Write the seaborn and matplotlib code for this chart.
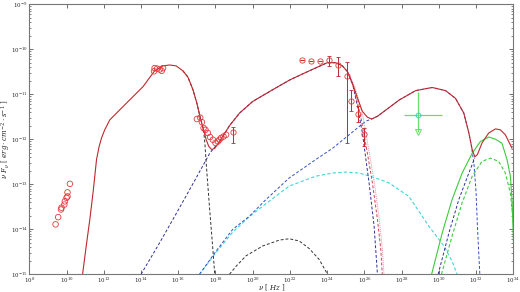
import numpy as np
import pandas as pd
import matplotlib
matplotlib.use("Agg")
import matplotlib.pyplot as plt
import matplotlib.ticker as mticker
import seaborn as sns

# values, stored as log10(nu / Hz) and log10(nuF_nu)
radio_lx = [9.41, 9.55, 9.70, 9.73, 9.88, 9.91, 10.0, 10.05, 10.05, 10.18]
radio_ly = [-13.89, -13.73, -13.56, -13.52, -13.45, -13.38, -13.30, -13.27, -13.18, -12.99]

opt_lx = [14.70, 14.73, 14.86, 15.0, 15.11, 15.18]
opt_ly = [-10.49, -10.42, -10.43, -10.45, -10.48, -10.42]

xray_lx = [17.0, 17.18, 17.27, 17.36, 17.46, 17.59, 17.71, 17.86, 18.0, 18.13, 18.21, 18.30, 18.43, 18.57]
xray_ly = [-11.55, -11.52, -11.62, -11.75, -11.79, -11.86, -11.95, -12.01, -12.08, -12.05, -12.01, -11.97, -11.94, -11.90]
xray_last = (18.93, -11.83, -11.72, -12.08)  # x, y, upper, lower

gam_lx = [22.63, 23.13, 23.61, 24.11, 24.59, 25.09, 25.27, 25.63, 25.98]
gam_ly = [-10.24, -10.26, -10.26, -10.25, -10.34, -10.59, -11.14, -11.44, -11.88]
gam_hi = [-10.24, -10.26, -10.26, -10.15, -10.17, -10.28, -10.90, -11.27, -11.75]
gam_lo = [-10.24, -10.26, -10.26, -10.37, -10.59, -12.08, -11.38, -11.61, -12.16]

# green upper limit: x, y, x_low, x_high, y_top, y_arrow
ul = (28.875, -11.47, 28.125, 30.18, -10.96, -11.83)

tot_lx = [10.86, 11.05, 11.25, 11.43, 11.61, 11.75, 11.88, 12.05, 12.32, 13.21, 14.11, 14.73,
          15.18, 15.54, 15.89, 16.25, 16.52, 16.79, 17.0, 17.2, 17.36, 17.5, 17.64, 17.8, 17.96,
          18.14, 18.39, 18.75, 19.29, 20.0, 21.07, 22.0, 23.04, 24.0, 24.46, 24.82, 25.09, 25.36,
          25.63, 25.89, 26.16, 26.39, 26.7, 26.96, 27.86, 28.75, 29.64, 30.36, 30.89, 31.34, 31.61,
          31.79, 31.93, 32.07, 32.32, 32.68, 33.04, 33.3, 33.57, 33.75, 33.93]
tot_ly = [-15.0, -14.39, -13.78, -13.16, -12.45, -12.16, -11.97, -11.79, -11.57, -11.2, -10.83, -10.48,
          -10.37, -10.35, -10.37, -10.48, -10.62, -10.9, -11.2, -11.55, -11.79, -12.01, -12.16, -12.23, -12.2,
          -12.1, -11.94, -11.7, -11.42, -11.16, -10.9, -10.68, -10.48, -10.3, -10.3, -10.37, -10.5, -10.76,
          -11.09, -11.38, -11.51, -11.55, -11.49, -11.41, -11.13, -10.92, -10.85, -10.92, -11.09, -11.42, -11.86,
          -12.23, -12.39, -12.34, -12.08, -11.86, -11.77, -11.79, -11.9, -12.05, -12.2]

sync_lx = [16.25, 16.52, 16.79, 17.0, 17.2, 17.36, 17.43, 17.5, 17.68, 17.86, 17.96]
sync_ly = [-10.48, -10.62, -10.9, -11.2, -11.55, -11.79, -12.09, -12.53, -13.52, -14.45, -15.0]

ssc_lx = [14.0, 15.0, 16.07, 16.96, 17.68, 17.86, 18.14, 18.39, 18.75, 19.29, 20.0, 21.07, 22.0,
          23.04, 24.0, 24.46, 24.82, 25.09, 25.36, 25.63, 25.89, 26.25, 26.52, 26.7]
ssc_ly = [-15.0, -14.3, -13.52, -12.86, -12.32, -12.22, -12.1, -11.94, -11.7, -11.42, -11.16, -10.9, -10.68,
          -10.48, -10.3, -10.3, -10.37, -10.5, -10.76, -11.27, -11.86, -12.97, -13.93, -15.0]

zone1_lx = [25.09, 25.45, 25.8, 26.16, 26.43, 26.7, 26.88, 26.96]
zone1_ly = [-10.5, -10.89, -11.49, -12.31, -12.97, -13.78, -14.45, -15.0]
zone1b_lx = [25.09, 25.5, 25.9, 26.25, 26.52, 26.79, 26.96, 27.05]
zone1b_ly = [-10.5, -10.85, -11.45, -12.27, -12.93, -13.74, -14.42, -15.0]

ec_lx = [17.14, 18.04, 18.93, 19.82, 20.71, 21.96, 23.39, 24.29, 25.18, 26.07, 26.39, 26.7, 26.96,
         27.86, 28.75, 29.64, 30.36, 30.89, 31.34, 31.61, 31.75, 31.88, 32.0, 32.07, 32.14, 32.2]
ec_ly = [-15.0, -14.48, -14.0, -13.71, -13.34, -12.86, -12.45, -12.2, -11.9, -11.6, -11.55, -11.49, -11.41,
         -11.13, -10.92, -10.85, -10.92, -11.09, -11.42, -11.86, -12.16, -12.53, -13.19, -13.93, -14.52, -15.0]

cyan_lx = [17.14, 18.04, 18.93, 19.82, 20.71, 21.96, 23.39, 24.29, 25.0, 25.71, 26.61, 27.32, 28.39,
           29.46, 30.27, 30.71, 30.98]
cyan_ly = [-15.0, -14.51, -14.06, -13.72, -13.43, -13.04, -12.82, -12.75, -12.73, -12.75, -12.86, -12.97, -13.27,
           -13.93, -14.37, -14.71, -15.0]

bump_lx = [18.75, 19.11, 19.64, 20.54, 21.43, 21.96, 22.5, 23.04, 23.57, 24.02]
bump_ly = [-15.0, -14.82, -14.59, -14.37, -14.24, -14.21, -14.26, -14.43, -14.67, -15.0]

hi_lx = [29.96, 30.54, 31.07, 31.61, 31.93]
hi_ly = [-15.0, -14.08, -13.34, -12.75, -12.41]

grn_lx = [29.61, 30.18, 30.71, 31.25, 31.79, 32.23, 32.68, 33.04, 33.39, 33.66, 33.84, 33.93, 34.02]
grn_ly = [-15.0, -14.08, -13.34, -12.75, -12.31, -12.05, -11.95, -12.0, -12.09, -12.45, -12.82, -13.34, -14.45]

grnd_lx = [30.14, 30.71, 31.25, 31.79, 32.32, 32.77, 33.21, 33.57, 33.84, 34.02]
grnd_ly = [-15.0, -14.15, -13.41, -12.82, -12.49, -12.42, -12.49, -12.75, -13.19, -13.93]

sns.set_style("ticks")
plt.rcParams["font.family"] = ["DejaVu Sans"]
plt.rcParams["mathtext.fontset"] = "dejavuserif"

fig = plt.figure(figsize=(5.2, 2.92), dpi=100)
ax = fig.add_axes([0.0564, 0.0606, 0.9308, 0.925])
ax.set_xscale("log")
ax.set_yscale("log")


def p(v):
    return 10.0 ** np.asarray(v)


def curve(lx, ly, color, ls="-", lw=0.8, z=2):
    sns.lineplot(x=p(lx), y=p(ly), sort=False, estimator=None, color=color,
                 linestyle=ls, linewidth=lw, ax=ax, zorder=z)


dash = (0, (3, 2))
curve(bump_lx, bump_ly, "#333333", dash, 0.7)
curve(cyan_lx, cyan_ly, "#3fd6d6", dash, 0.8)
curve(ec_lx, ec_ly, "#3350c8", dash, 0.7)
curve(ssc_lx, ssc_ly, "#2e2e9c", dash, 0.7)
curve(sync_lx, sync_ly, "#333333", dash, 0.7)
curve(zone1b_lx, zone1b_ly, "#f08aa0", (0, (1, 1)), 0.7)
curve(zone1_lx, zone1_ly, "#d04050", dash, 0.7)
curve(hi_lx, hi_ly, "#2e2e9c", dash, 0.7)
curve(grnd_lx, grnd_ly, "#3ccc3c", dash, 0.8)
curve(grn_lx, grn_ly, "#3ccc3c", "-", 0.8)
curve(tot_lx, tot_ly, "#c0282d", "-", 0.8, 3)

red = "#e03a3a"
sns.scatterplot(x=p(radio_lx + opt_lx + xray_lx), y=p(radio_ly + opt_ly + xray_ly), marker="o",
                s=16, facecolors="none", edgecolor=red, linewidth=0.6, ax=ax, zorder=4)

gy = p(gam_ly)
ax.errorbar(p(gam_lx), gy, yerr=[gy - p(gam_lo), p(gam_hi) - gy], fmt="o", ms=3.8, mfc="none",
            mec=red, mew=0.6, ecolor="#c0282d", elinewidth=0.7, capsize=1.5, capthick=0.6, zorder=4)
xl = xray_last
ax.errorbar([p(xl[0])], [p(xl[1])], yerr=[[p(xl[1]) - p(xl[3])], [p(xl[2]) - p(xl[1])]], fmt="o",
            ms=3.8, mfc="none", mec=red, mew=0.6, ecolor="#c0282d", elinewidth=0.7, capsize=1.5,
            capthick=0.6, zorder=4)

g = "#66e066"
ax.errorbar([p(ul[0])], [p(ul[1])], xerr=[[p(ul[0]) - p(ul[2])], [p(ul[3]) - p(ul[0])]],
            yerr=[[p(ul[1]) - p(ul[5])], [p(ul[4]) - p(ul[1])]], fmt="o", ms=3.5, mfc="none",
            mec="#33cccc", mew=0.6, ecolor=g, elinewidth=0.9, capsize=0, zorder=5)
ax.plot([p(ul[0])], [p(ul[5])], marker="v", ms=4, mfc="none", mec=g, mew=0.7, zorder=5)

ax.set_xlim(1e8, 1e34)
ax.set_ylim(1e-15, 1e-9)
ax.xaxis.set_major_locator(mticker.LogLocator(base=100, numticks=20))
ax.xaxis.set_minor_locator(mticker.NullLocator())
ax.yaxis.set_major_locator(mticker.LogLocator(base=10, numticks=20))
ax.yaxis.set_minor_locator(mticker.LogLocator(base=10, subs=np.arange(2, 10), numticks=20))
fmt = mticker.FuncFormatter(lambda v, pos: r"$10^{%d}$" % round(np.log10(v)))
ax.xaxis.set_major_formatter(fmt)
ax.yaxis.set_major_formatter(fmt)
ax.tick_params(which="both", direction="in", top=True, right=True, color="#555555",
               labelsize=4.0, pad=1.2)
ax.tick_params(which="major", length=3, width=0.6)
ax.tick_params(which="minor", length=1.6, width=0.5)
for s in ax.spines.values():
    s.set_color("#777777")
    s.set_linewidth(0.8)

ax.set_xlabel(r"$\nu\ [\ Hz\ ]$", fontsize=5)
ax.set_ylabel(r"$\nu\ F_{\nu}\ [\ erg \cdot cm^{-2} \cdot s^{-1}\ ]$", fontsize=5)
ax.xaxis.set_label_coords(0.5, -0.05)
ax.xaxis.label.set_va("center")
ax.yaxis.set_label_coords(-0.05, 0.5)
ax.yaxis.label.set_va("center")

fig.savefig("out.png", dpi=100)
